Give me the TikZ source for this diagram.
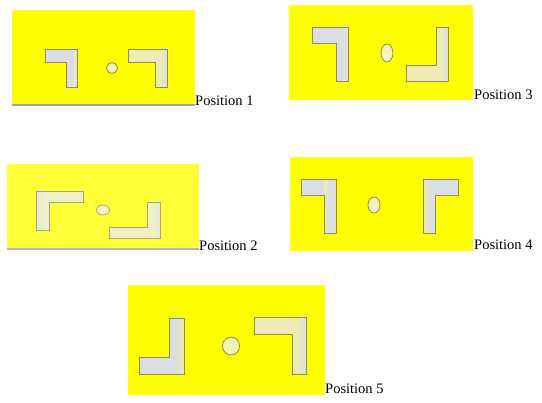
\documentclass[tikz,border=0pt]{standalone}
\usepackage{fontspec}
\setmainfont{Liberation Serif}
\definecolor{panelyellow}{HTML}{FFFF00}
\definecolor{lgray}{HTML}{DCDEE6}
\definecolor{lyel}{HTML}{ECECB4}
\definecolor{outl}{HTML}{8E8C50}
\definecolor{dotfill}{HTML}{F5F2B8}
\definecolor{bottomgray}{HTML}{A4A4A4}
\tikzset{
  panel/.style={fill=panelyellow, draw=none},
  outline/.style={draw=outl, line width=0.8pt, line join=miter},
  dot/.style={fill=dotfill, draw=outl, line width=0.8pt},
  lbl/.style={anchor=base west, inner sep=0pt, font=\fontsize{14.5}{17}\selectfont},
  bline/.style={draw=bottomgray, line width=1.5pt}
}
\begin{document}
\begin{tikzpicture}[x=1pt,y=-1pt]
\useasboundingbox (0,0) rectangle (542,403);
\fill[white] (0,0) rectangle (542,403);

% ---------- Position 1 ----------
\fill[panel] (12,10) rectangle (195,105);
\draw[bline] (12,105) -- (195,105);
\fill[lgray] (45,49) -- (77,49) -- (77,87) -- (66,87) -- (66,62) -- (45,62) -- cycle;
\shade[left color=lgray, right color=lyel] (71,49) rectangle (77,87);
\draw[outline] (45,49) -- (77,49) -- (77,87) -- (66,87) -- (66,62) -- (45,62) -- cycle;
\fill[lyel] (128,49) -- (167,49) -- (167,87) -- (155,87) -- (155,62) -- (128,62) -- cycle;
\shade[left color=lyel, right color=lgray] (160,49) rectangle (167,87);
\draw[outline] (128,49) -- (167,49) -- (167,87) -- (155,87) -- (155,62) -- (128,62) -- cycle;
\draw[dot] (112,68) ellipse [x radius=5.5, y radius=5.5];
\node[lbl] (p1) at (195,106) {Position 1};

% ---------- Position 3 ----------
\fill[panel] (289,5) rectangle (473,100);
\fill[lgray] (312,27) -- (348,27) -- (348,81) -- (336,81) -- (336,43) -- (312,43) -- cycle;
\shade[left color=lgray, right color=lyel!60!lgray] (342,27) rectangle (348,81);
\draw[outline] (312,27) -- (348,27) -- (348,81) -- (336,81) -- (336,43) -- (312,43) -- cycle;
\fill[lyel] (436,27) -- (448,27) -- (448,81) -- (406,81) -- (406,65) -- (436,65) -- cycle;
\shade[left color=lyel, right color=lgray] (441,27) rectangle (448,81);
\draw[outline] (436,27) -- (448,27) -- (448,81) -- (406,81) -- (406,65) -- (436,65) -- cycle;
\draw[dot] (387,53) ellipse [x radius=6, y radius=9];
\node[lbl] (p3) at (474,100) {Position 3};

% ---------- Position 2 ----------
\fill[panel] (7,164) rectangle (199,249);
\draw[bline] (7,249) -- (199,249);
\fill[lyel] (36,191) -- (83,191) -- (83,202) -- (49,202) -- (49,230) -- (36,230) -- cycle;
\shade[left color=lgray, right color=lyel] (36,191) rectangle (44,230);
\draw[outline] (36,191) -- (83,191) -- (83,202) -- (49,202) -- (49,230) -- (36,230) -- cycle;
\fill[lyel] (147,202) -- (160,202) -- (160,238) -- (109,238) -- (109,227) -- (147,227) -- cycle;
\shade[left color=lyel, right color=lgray] (153,202) rectangle (160,238);
\draw[outline] (147,202) -- (160,202) -- (160,238) -- (109,238) -- (109,227) -- (147,227) -- cycle;
\draw[dot] (103,210) ellipse [x radius=6.5, y radius=5];
\fill[white, opacity=0.22] (7,164) rectangle (199,250);
\node[lbl] (p2) at (199,251) {Position 2};

% ---------- Position 4 ----------
\fill[panel] (290,157) rectangle (473,251);
\fill[lgray] (301,179) -- (336,179) -- (336,233) -- (324,233) -- (324,195) -- (301,195) -- cycle;
\shade[left color=lyel, right color=lgray] (324,179) rectangle (330,233);
\draw[outline] (301,179) -- (336,179) -- (336,233) -- (324,233) -- (324,195) -- (301,195) -- cycle;
\fill[lgray] (423,179) -- (458,179) -- (458,195) -- (435,195) -- (435,233) -- (423,233) -- cycle;
\shade[left color=lyel, right color=lgray] (423,179) rectangle (432,233);
\draw[outline] (423,179) -- (458,179) -- (458,195) -- (435,195) -- (435,233) -- (423,233) -- cycle;
\draw[dot] (374,205) ellipse [x radius=6, y radius=8];
\node[lbl] (p4) at (474,250) {Position 4};

% ---------- Position 5 ----------
\fill[panel] (128,285) rectangle (325,395);
\fill[lgray] (169,318) -- (184,318) -- (184,374) -- (139,374) -- (139,357) -- (169,357) -- cycle;
\shade[left color=lgray, right color=lyel] (174,318) rectangle (184,374);
\draw[outline] (169,318) -- (184,318) -- (184,374) -- (139,374) -- (139,357) -- (169,357) -- cycle;
\fill[lyel] (254,317) -- (306,317) -- (306,374) -- (292,374) -- (292,334) -- (254,334) -- cycle;
\shade[left color=lyel, right color=lgray] (298,317) rectangle (306,374);
\draw[outline] (254,317) -- (306,317) -- (306,374) -- (292,374) -- (292,334) -- (254,334) -- cycle;
\draw[dot] (231,346) ellipse [x radius=8.5, y radius=9];
\node[lbl] (p5) at (325,394) {Position 5};
\end{tikzpicture}
\end{document}
